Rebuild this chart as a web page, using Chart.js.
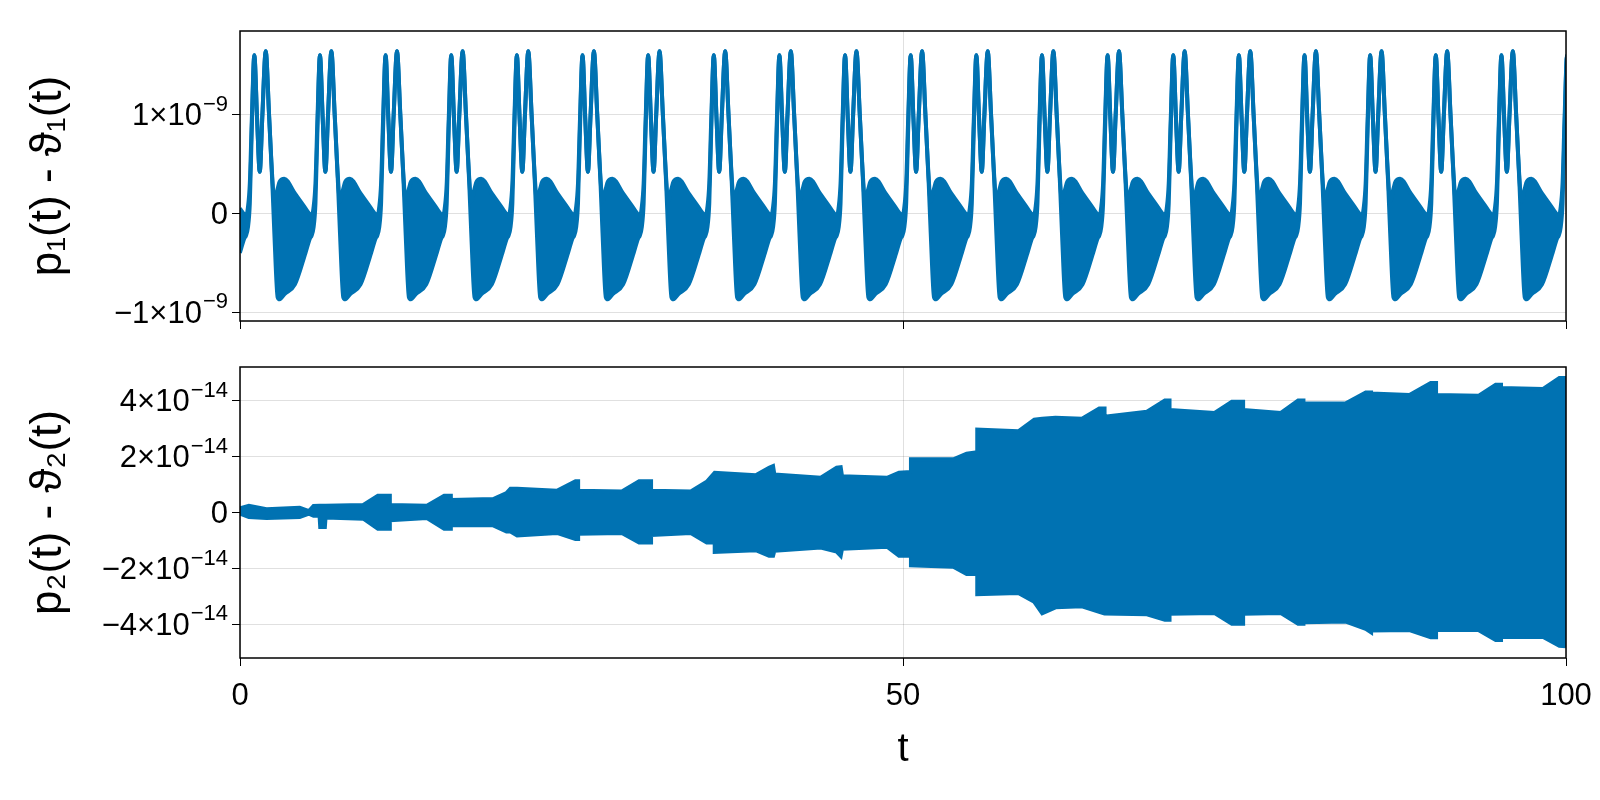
<!DOCTYPE html>
<html>
<head>
<meta charset="utf-8">
<script src="https://cdn.jsdelivr.net/npm/chart.js@4"></script>
<style>
  body { margin: 0; background: #fff; }
  #wrap { position: relative; width: 1600px; height: 800px; }
  canvas { position: absolute; left: 0; }
  #top { top: 0; }
  #bottom { top: 336px; }
</style>
</head>
<body>
<div id="wrap">
  <canvas id="top" width="1600" height="336"></canvas>
  <canvas id="bottom" width="1600" height="464"></canvas>
</div>
<script>
// top panel: one period of the p1 - theta1 band (units of 1e-9)
const cyclePhase = [0, 0.15, 0.3, 0.45, 0.64, 0.85, 1.05, 1.25, 1.5, 1.75, 2.0, 2.15, 2.4, 2.55, 2.9, 3.7, 4.5, 4.85];
const cycleUpper = [-0.04, 0.05, 0.3, 0.95, 1.6, 0.95, 0.42, 1.0, 1.64, 1.0, 0.35, 0.12, 0.25, 0.32, 0.35, 0.2, 0.05, -0.02];
const cycleLower = [-0.23, -0.15, 0.1, 0.85, 1.6, 0.95, 0.42, 1.0, 1.64, 1.0, 0.3, -0.2, -0.85, -0.87, -0.82, -0.72, -0.4, -0.25];
// where each period starts on the t axis
const cycleStarts = [-4.51, 0.44, 5.39, 10.34, 15.29, 20.24, 25.19, 30.14, 35.09, 40.04, 44.99,
  49.94, 54.89, 59.84, 64.79, 69.74, 74.69, 79.64, 84.59, 89.54, 94.49, 99.44];

// bottom panel: envelope of p2 - theta2 (units of 1e-14)
const envT = [0, 0.67, 2.0, 4.5, 5.2, 5.55, 6.0, 6.05, 6.4, 6.45, 9.3, 10.4, 11.3, 11.3, 14.1, 15.4, 15.9, 15.9, 19.1, 20.1, 20.4, 20.9,
  23.9, 25.3, 25.5, 25.5, 28.8, 30.1, 31.0, 31.0, 34.0, 35.2, 35.8, 35.8, 38.9, 39.9, 40.2, 40.3, 43.8, 45.0, 45.3, 45.4,
  48.8, 49.7, 50.6, 50.6, 53.8, 54.8, 55.6, 55.6, 58.7, 59.9, 60.5, 61.5, 63.5, 64.8, 65.2, 65.2, 68.4, 69.75, 70.1, 70.1,
  73.5, 74.8, 75.65, 75.65, 78.5, 79.8, 80.2, 80.2, 83.4, 84.9, 85.3, 85.3, 88.2, 89.8, 90.2, 90.2, 93.4, 94.7, 95.1, 95.1,
  98.25, 99.5, 100];
const envUpper = [0.15, 0.24, 0.12, 0.17, 0.05, 0.23, 0.24, 0.24, 0.24, 0.24, 0.27, 0.6, 0.6, 0.27, 0.24, 0.6, 0.6, 0.45, 0.48, 0.69, 0.85, 0.85,
  0.78, 1.12, 1.12, 0.78, 0.75, 1.12, 1.12, 0.78, 0.75, 1.1, 1.42, 1.42, 1.33, 1.6, 1.66, 1.36, 1.24, 1.6, 1.62, 1.3,
  1.24, 1.42, 1.45, 1.9, 1.9, 2.1, 2.15, 2.96, 2.9, 3.32, 3.35, 3.39, 3.35, 3.72, 3.72, 3.42, 3.6, 4.0, 4.0, 3.66,
  3.56, 3.96, 3.96, 3.66, 3.56, 4.0, 4.0, 3.9, 3.9, 4.29, 4.29, 4.25, 4.2, 4.63, 4.63, 4.2, 4.17, 4.57, 4.57, 4.45,
  4.41, 4.81, 4.81];
const envLower = [-0.04, -0.16, -0.2, -0.16, -0.04, -0.12, -0.12, -0.52, -0.52, -0.18, -0.22, -0.58, -0.58, -0.28, -0.2, -0.58, -0.58, -0.45, -0.46, -0.68, -0.68, -0.82,
  -0.73, -0.95, -0.95, -0.76, -0.73, -1.07, -1.07, -0.8, -0.73, -1.07, -1.07, -1.41, -1.35, -1.55, -1.55, -1.37, -1.25, -1.4, -1.55, -1.3,
  -1.22, -1.55, -1.55, -1.89, -1.94, -2.2, -2.2, -2.92, -2.88, -3.19, -3.6, -3.39, -3.35, -3.55, -3.61, -3.61, -3.64, -3.83, -3.83, -3.62,
  -3.59, -3.98, -3.98, -3.62, -3.59, -3.98, -3.98, -3.92, -3.9, -4.16, -4.28, -4.22, -4.2, -4.46, -4.46, -4.2, -4.2, -4.56, -4.56, -4.45,
  -4.44, -4.76, -4.78];

const xTicks = [0, 50, 100];
const xTickLabels = ['0', '50', '100'];
const topTicks = [-1e-9, 0, 1e-9];
// [mantissa, exponent] for each tick label
const topTickLabels = [['\u22121\u00d710', '\u22129'], ['0', ''], ['1\u00d710', '\u22129']];
const bottomTicks = [-4e-14, -2e-14, 0, 2e-14, 4e-14];
const bottomTickLabels = [['\u22124\u00d710', '\u221214'], ['\u22122\u00d710', '\u221214'], ['0', ''], ['2\u00d710', '\u221214'], ['4\u00d710', '\u221214']];

const BLUE = 'rgb(0, 114, 178)';
const GRID = 'rgba(0, 0, 0, 0.12)';
const FONT = "'Liberation Sans', Arial, sans-serif";

function buildCycles(scale) {
  const up = [], lo = [];
  cycleStarts.forEach(s => {
    cyclePhase.forEach((p, i) => {
      up.push({ x: s + p, y: cycleUpper[i] * scale });
      lo.push({ x: s + p, y: cycleLower[i] * scale });
    });
  });
  return [up, lo];
}

function buildEnvelope(scale) {
  return [
    envT.map((t, i) => ({ x: t, y: envUpper[i] * scale })),
    envT.map((t, i) => ({ x: t, y: envLower[i] * scale }))
  ];
}

// frame + all text (tick labels with raised exponents, axis titles)
function textPlugin(yTicks, yLabels, yTitle, showX) {
  return {
    id: 'frameText',
    afterDraw(chart) {
      const a = chart.chartArea, ctx = chart.ctx;
      const ys = chart.scales.y, xs = chart.scales.x;
      ctx.save();
      ctx.strokeStyle = '#000';
      ctx.lineWidth = 1.5;
      ctx.strokeRect(a.left, a.top, a.right - a.left, a.bottom - a.top);

      ctx.fillStyle = '#000';
      ctx.textBaseline = 'middle';
      yTicks.forEach((v, i) => {
        const [base, exp] = yLabels[i];
        const y = ys.getPixelForValue(v);
        let right = a.left - 12;
        if (exp) {
          ctx.font = '22px ' + FONT;
          ctx.textAlign = 'right';
          ctx.fillText(exp, right, y - 10);
          right -= ctx.measureText(exp).width + 1;
        }
        ctx.font = '31px ' + FONT;
        ctx.textAlign = 'right';
        ctx.fillText(base, right, y + 2);
      });

      ctx.save();
      ctx.translate(49, (a.top + a.bottom) / 2);
      ctx.rotate(-Math.PI / 2);
      ctx.textAlign = 'center';
      ctx.font = '44px ' + FONT;
      ctx.fillText(yTitle, 0, 0);
      ctx.restore();

      if (showX) {
        ctx.textAlign = 'center';
        ctx.font = '31px ' + FONT;
        xTicks.forEach((v, i) => ctx.fillText(xTickLabels[i], xs.getPixelForValue(v), a.bottom + 38));
        ctx.font = '40px ' + FONT;
        ctx.fillText('t', (a.left + a.right) / 2, a.bottom + 92);
      }
      ctx.restore();
    }
  };
}

function makePanel(id, data, yMin, yMax, yTicks, yLabels, yTitle, showX, xHeight, monotone) {
  const [up, lo] = data;
  return new Chart(document.getElementById(id), {
    type: 'line',
    data: {
      datasets: [
        { data: up, borderColor: BLUE, backgroundColor: BLUE, borderWidth: 4, fill: '+1', pointRadius: 0,
          cubicInterpolationMode: monotone ? 'monotone' : 'default', tension: 0 },
        { data: lo, borderColor: BLUE, backgroundColor: BLUE, borderWidth: 4, fill: false, pointRadius: 0,
          cubicInterpolationMode: monotone ? 'monotone' : 'default', tension: 0 }
      ]
    },
    options: {
      responsive: false,
      animation: false,
      layout: { padding: { left: 0, right: 34, top: 31, bottom: 0 } },
      plugins: { legend: { display: false }, tooltip: { enabled: false } },
      scales: {
        x: {
          type: 'linear', min: 0, max: 100,
          afterBuildTicks: ax => { ax.ticks = xTicks.map(v => ({ value: v })); },
          afterFit: ax => { ax.height = xHeight; },
          border: { display: false },
          grid: { color: GRID, tickColor: '#000', tickLength: 8, lineWidth: 1 },
          ticks: { display: false }
        },
        y: {
          min: yMin, max: yMax,
          afterBuildTicks: ax => { ax.ticks = yTicks.map(v => ({ value: v })); },
          afterFit: ax => { ax.width = 240; },
          border: { display: false },
          grid: { color: GRID, tickColor: '#000', tickLength: 8, lineWidth: 1 },
          ticks: { display: false }
        }
      }
    },
    plugins: [textPlugin(yTicks, yLabels, yTitle, showX)]
  });
}

makePanel('top', buildCycles(1e-9), -1.09e-9, 1.845e-9, topTicks, topTickLabels,
  'p\u2081(t) - \u03d1\u2081(t)', false, 15, true);
makePanel('bottom', buildEnvelope(1e-14), -5.2e-14, 5.2e-14, bottomTicks, bottomTickLabels,
  'p\u2082(t) - \u03d1\u2082(t)', true, 142, false);
</script>
</body>
</html>
